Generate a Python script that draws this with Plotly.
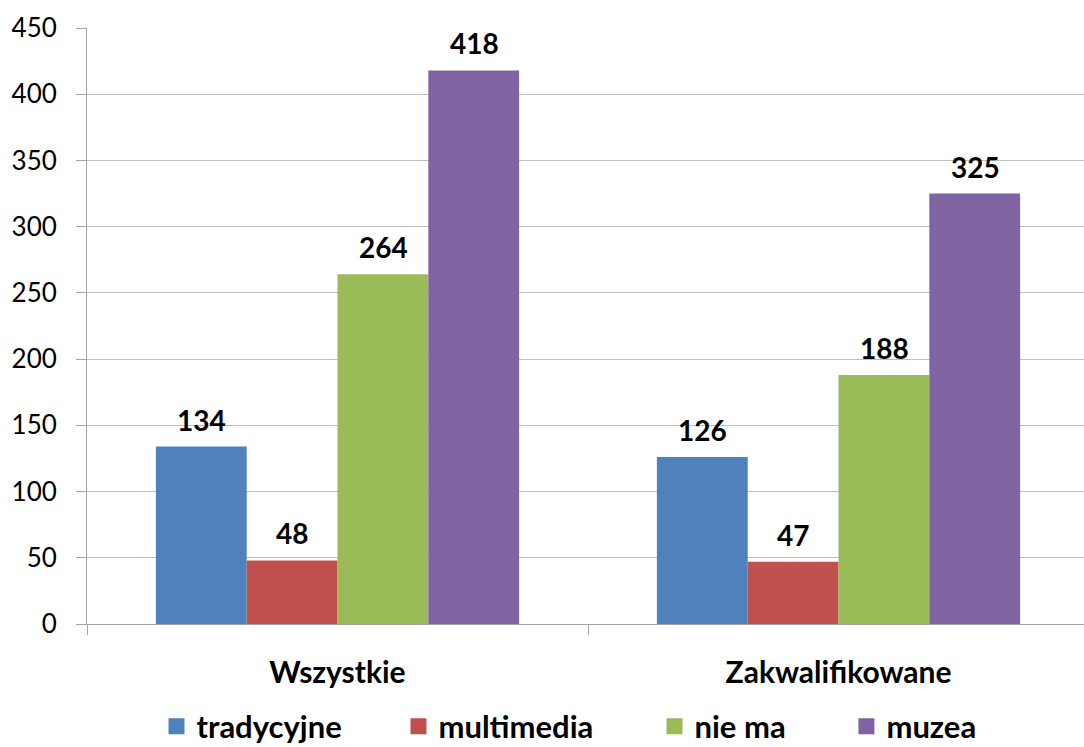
import plotly.graph_objects as go

categories = ["Wszystkie", "Zakwalifikowane"]
series_names = ["tradycyjne", "multimedia", "nie ma", "muzea"]
tradycyjne = [134, 126]
multimedia = [48, 47]
nie_ma = [264, 188]
muzea = [418, 325]
colors = ["#4F81BD", "#C0504D", "#9BBB59", "#8064A2"]
y_ticks = [0, 50, 100, 150, 200, 250, 300, 350, 400, 450]

FONT = "Lato"
BAR_PX = 91  # width of a single bar in pixels, used to place value labels
LEGEND_X = [0.0697, 0.3124, 0.5692, 0.7617]  # left edge of each legend entry (plot fraction)
series_values = [tradycyjne, multimedia, nie_ma, muzea]

fig = go.Figure()
for i, (name, vals, col) in enumerate(zip(series_names, series_values, colors)):
    fig.add_trace(go.Bar(
        name=name, x=categories, y=vals, showlegend=False,
        marker=dict(color=col, line=dict(width=0)),
    ))
    # value labels above each bar
    shift = (i - 1.5) * BAR_PX
    for cat, v in zip(categories, vals):
        fig.add_annotation(
            x=cat, y=v, text=str(v), showarrow=False, yanchor="bottom",
            xshift=shift, yshift=8,
            font=dict(family=FONT, size=28, color="black", weight="bold"),
        )

# one legend per series so each entry can be placed on its own
legend_layouts = {}
for i, (name, col) in enumerate(zip(series_names, colors)):
    lg = "legend" if i == 0 else f"legend{i + 1}"
    fig.add_trace(go.Scatter(
        name=name, x=[None], y=[None], mode="markers", legend=lg,
        marker=dict(symbol="square", size=16, color=col),
    ))
    legend_layouts[lg] = dict(
        orientation="h", x=LEGEND_X[i], xref="paper", xanchor="left",
        y=-0.172, yanchor="middle",
        font=dict(family=FONT, size=31, weight="bold"), itemwidth=30,
        itemsizing="trace", bgcolor="rgba(0,0,0,0)",
    )

fig.update_layout(
    width=1084, height=747,
    margin=dict(l=87, r=0, t=28, b=123, autoexpand=False),
    paper_bgcolor="white", plot_bgcolor="white",
    barmode="group", bargap=0.275, bargroupgap=0,
    font=dict(family=FONT, color="black"),
    showlegend=True,
    **legend_layouts,
)
fig.update_xaxes(
    type="category", range=[-0.5, 1.49],
    showline=True, linecolor="#A6A6A6", linewidth=1,
    ticks="outside", tickson="boundaries", ticklen=10, tickcolor="#A6A6A6",
    tickfont=dict(family=FONT, size=30, weight="bold"), ticklabelstandoff=22,
    showgrid=False, automargin=False,
)
fig.update_yaxes(
    range=[0, 450], tickvals=y_ticks,
    showline=True, linecolor="#A6A6A6", linewidth=1,
    ticks="outside", ticklen=10, tickcolor="#A6A6A6",
    tickfont=dict(family=FONT, size=26), ticklabelstandoff=14,
    showgrid=True, gridcolor="#BFBFBF", gridwidth=1, zeroline=False,
    automargin=False,
)
fig.write_html("out.html")
